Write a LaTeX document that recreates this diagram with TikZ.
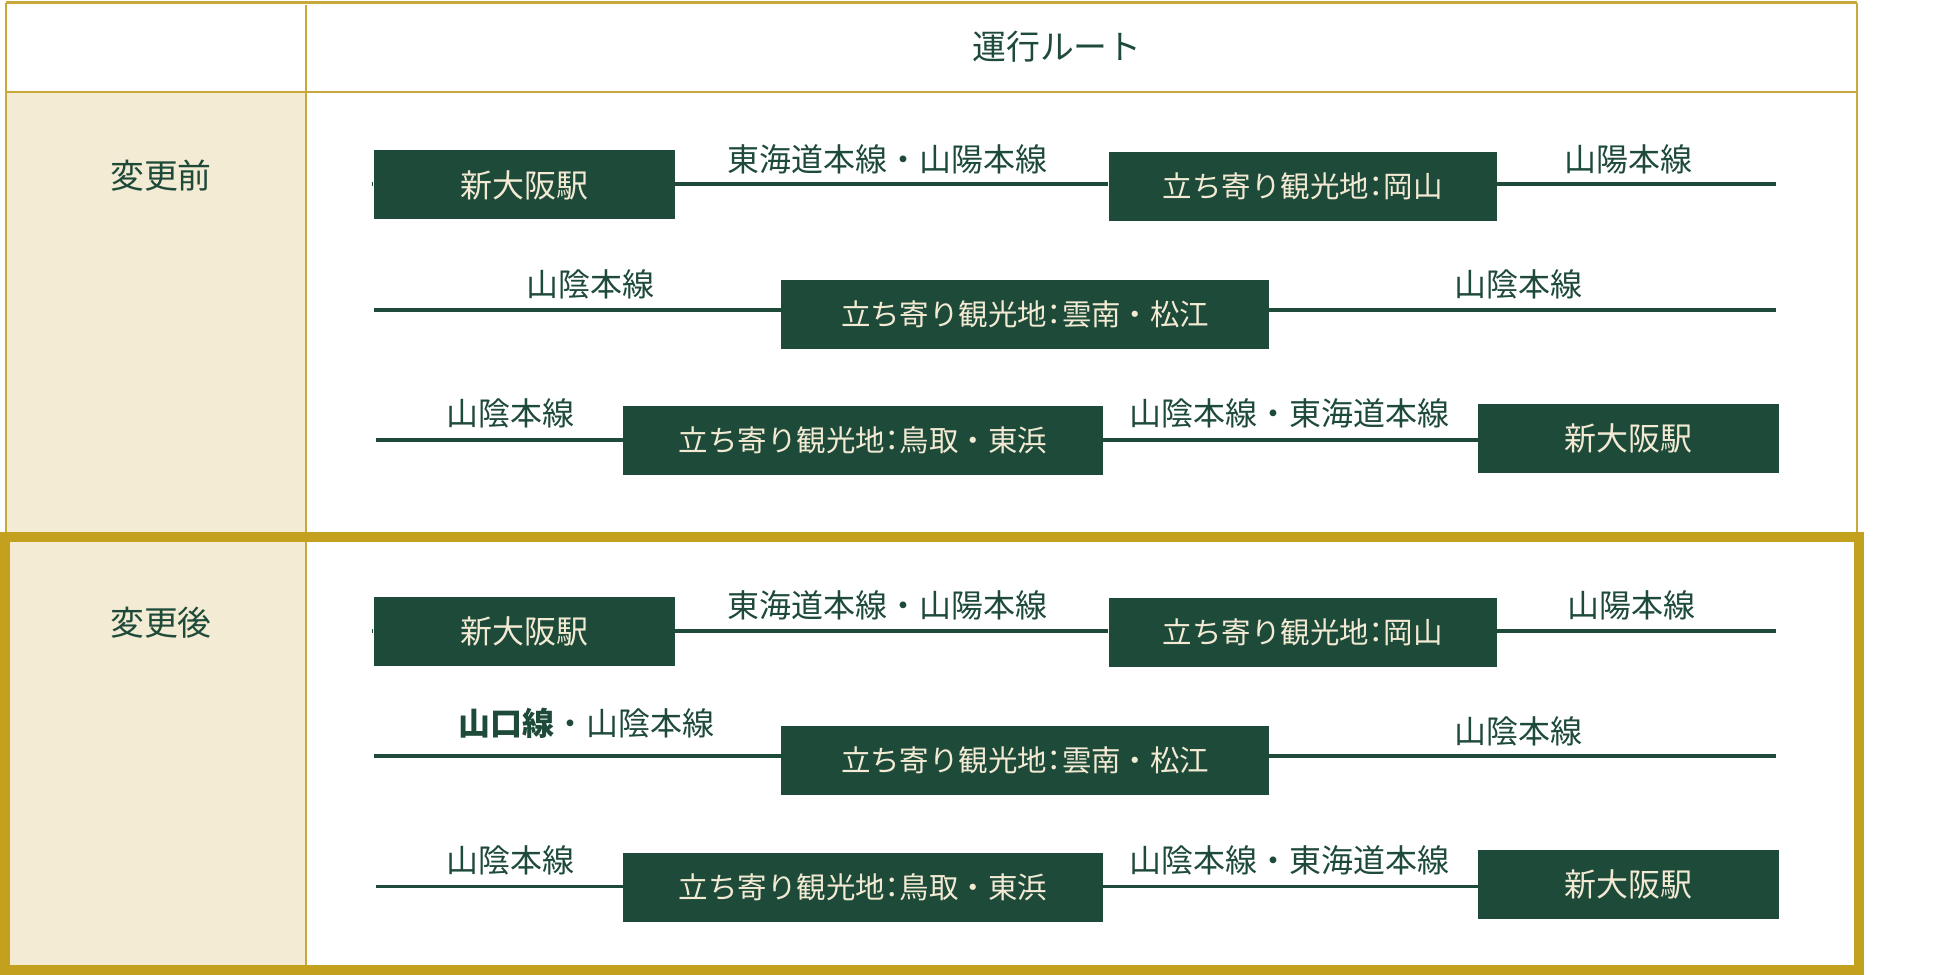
\documentclass[tikz,border=0pt]{standalone}
\usepackage{fontspec}
\setmainfont{Noto Sans CJK JP}
\newfontfamily\jpp[RawFeature=+palt]{Noto Sans CJK JP}
\newcommand{\hcolon}{{\jpp ：}}
\definecolor{dg}{HTML}{1E4A3A}
\definecolor{cream}{HTML}{F2EAD3}
\definecolor{tanbg}{HTML}{F3EBD3}
\definecolor{goldthin}{HTML}{C9A83B}
\definecolor{goldthick}{HTML}{C3A11F}
\tikzset{
  stn/.style={fill=dg, text=cream, inner sep=0pt, minimum height=55pt,
    font=\fontsize{25.5}{30}\selectfont},
  spot/.style={fill=dg, text=cream, inner sep=0pt, minimum height=55pt,
    font=\fontsize{23.5}{28}\selectfont},
  lbl/.style={text=dg, inner sep=0pt, font=\fontsize{25.5}{30}\selectfont},
  rail/.style={draw=dg, line width=3pt},
  thin/.style={draw=goldthin, line width=1.6pt},
  head/.style={text=dg, inner sep=0pt, font=\fontsize{27}{32}\selectfont},
}
\begin{document}
\begin{tikzpicture}[x=0.9953pt,y=-1pt]
\useasboundingbox (0,0) rectangle (1567.4,777.6);
% backgrounds
\fill[tanbg] (5,73) rectangle (245,428);
\fill[tanbg] (4,428) rectangle (245,774);
% table lines (top section)
\draw[thin] (5,2) -- (1488,2);
\draw[thin] (5,73) -- (1488,73);
\draw[thin] (5,2) -- (5,428);
\draw[thin] (1488,2) -- (1488,428);
\draw[thin] (245,4) -- (245,774);
% thick frame
\draw[draw=goldthick, line width=8pt] (4,428) rectangle (1490,774);
% headers
\node[head] (hroute) at (847,37) {運行ルート};
\node[head] (hbefore) at (129,140) {変更前};
\node[head] (hafter) at (129,497) {変更後};

% ===== before =====
% row 1
\coordinate (b1s) at (298,147);
\coordinate (b1e) at (1423,147);
\node[stn, minimum width=240pt] (b1a) at (420,147.5) {新大阪駅};
\node[spot, minimum width=310pt] (b1b) at (1044,148.5) {立ち寄り観光地\hcolon 岡山};
\draw[rail] (b1s) -- (b1s -| b1a.west);
\draw[rail] (b1s -| b1a.east) -- (b1s -| b1b.west);
\draw[rail] (b1s -| b1b.east) -- (b1e);
\node[lbl] (b1l1) at (711,127) {東海道本線・山陽本線};
\node[lbl] (b1l2) at (1305,127) {山陽本線};
% row 2
\coordinate (b2s) at (300,247);
\coordinate (b2e) at (1423,247);
\node[spot, minimum width=389pt] (b2a) at (821.5,250.5) {立ち寄り観光地\hcolon 雲南・松江};
\draw[rail] (b2s) -- (b2s -| b2a.west);
\draw[rail] (b2s -| b2a.east) -- (b2e);
\node[lbl] (b2l1) at (473,227) {山陰本線};
\node[lbl] (b2l2) at (1217,227) {山陰本線};
% row 3
\coordinate (b3s) at (301,351);
\node[spot, minimum width=383pt] (b3a) at (691.5,351.5) {立ち寄り観光地\hcolon 鳥取・東浜};
\node[stn, minimum width=240pt] (b3b) at (1305,349.5) {新大阪駅};
\draw[rail] (b3s) -- (b3s -| b3a.west);
\draw[rail] (b3s -| b3a.east) -- (b3s -| b3b.west);
\node[lbl] (b3l1) at (409,330) {山陰本線};
\node[lbl] (b3l2) at (1033,330) {山陰本線・東海道本線};

% ===== after =====
% row 1
\coordinate (a1s) at (298,503);
\coordinate (a1e) at (1423,503);
\node[stn, minimum width=240pt] (a1a) at (420,503.5) {新大阪駅};
\node[spot, minimum width=310pt] (a1b) at (1044,504.5) {立ち寄り観光地\hcolon 岡山};
\draw[rail] (a1s) -- (a1s -| a1a.west);
\draw[rail] (a1s -| a1a.east) -- (a1s -| a1b.west);
\draw[rail] (a1s -| a1b.east) -- (a1e);
\node[lbl] (a1l1) at (711,483) {東海道本線・山陽本線};
\node[lbl] (a1l2) at (1307,483) {山陽本線};
% row 2
\coordinate (a2s) at (300,603);
\coordinate (a2e) at (1423,603);
\node[spot, minimum width=389pt] (a2a) at (821.5,606.5) {立ち寄り観光地\hcolon 雲南・松江};
\draw[rail] (a2s) -- (a2s -| a2a.west);
\draw[rail] (a2s -| a2a.east) -- (a2e);
\node[lbl] (a2l1) at (470,577) {\textbf{山口線}・山陰本線};
\node[lbl] (a2l2) at (1217,583) {山陰本線};
% row 3
\coordinate (a3s) at (301,707);
\node[spot, minimum width=383pt] (a3a) at (691.5,707.5) {立ち寄り観光地\hcolon 鳥取・東浜};
\node[stn, minimum width=240pt] (a3b) at (1305,705.5) {新大阪駅};
\draw[rail] (a3s) -- (a3s -| a3a.west);
\draw[rail] (a3s -| a3a.east) -- (a3s -| a3b.west);
\node[lbl] (a3l1) at (409,686) {山陰本線};
\node[lbl] (a3l2) at (1033,686) {山陰本線・東海道本線};
\end{tikzpicture}
\end{document}
